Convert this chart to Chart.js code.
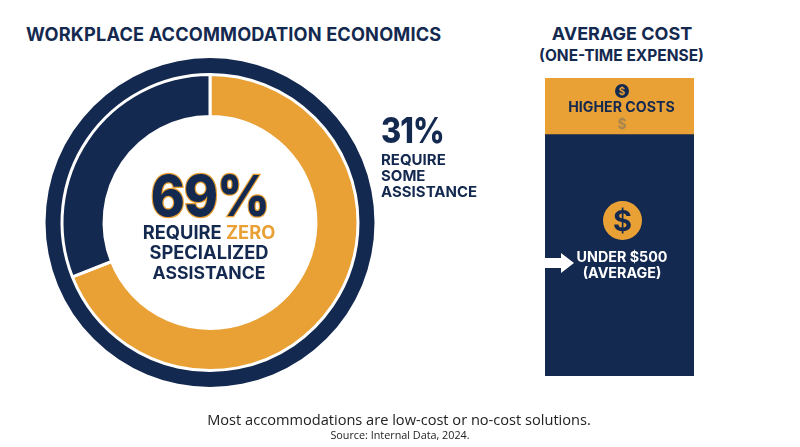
<!DOCTYPE html>
<html>
<head>
<meta charset="utf-8">
<script src="https://cdn.jsdelivr.net/npm/chart.js@4/dist/chart.umd.min.js"></script>
<style>
    html, body { margin: 0; padding: 0; background: #fff; }
    #page { position: relative; width: 800px; height: 447px; overflow: hidden; font-family: Inter, sans-serif; color: #14294f; }
    canvas { position: absolute; }
    .t { position: absolute; white-space: nowrap; font-weight: 700; line-height: 1; }
    .c { transform: translateX(-50%); text-align: center; }
    .coin { position: absolute; border-radius: 50%; text-align: center; font-weight: 700; }
    .foot { font-family: 'Open Sans', sans-serif; font-weight: 400; color: #222; }
</style>
</head>
<body>
<div id="page">
    <div class="t" style="left:26px;top:25px;font-size:18.2px;letter-spacing:.15px">WORKPLACE ACCOMMODATION ECONOMICS</div>

    <div style="position:absolute;left:0;top:0;width:420px;height:442px"><canvas id="donutChart"></canvas></div>

    <div class="t" style="left:210px;top:168px;font-size:56px;font-weight:800;letter-spacing:-1px;-webkit-text-stroke:2.5px #e9a136;paint-order:stroke fill;transform:translateX(-50%) scaleX(.92)">69%</div>
    <div class="t c" style="left:209px;top:222px;font-size:18.3px;line-height:20px">REQUIRE <span style="color:#e9a136">ZERO</span><br>SPECIALIZED<br><span style="font-size:17.6px">ASSISTANCE</span></div>

    <div class="t" style="left:381px;top:113px;font-size:35px;font-weight:800;letter-spacing:-1px;transform-origin:left;transform:scaleX(.88)">31%</div>
    <div class="t" style="left:381px;top:152px;font-size:15px;line-height:16px">REQUIRE<br>SOME<br>ASSISTANCE</div>

    <div class="t c" style="left:622px;top:25px;font-size:18px">AVERAGE COST</div>
    <div class="t c" style="left:621.5px;top:48px;font-size:15.5px">(ONE-TIME EXPENSE)</div>

    <div style="position:absolute;left:545px;top:78px;width:149px;height:298px"><canvas id="costChart"></canvas></div>

    <div class="coin" style="left:615px;top:84px;width:14px;height:14px;background:#14294f;color:#e9a136;font-size:10px;line-height:14px">$</div>
    <div class="t c" style="left:621.5px;top:100px;font-size:14.2px">HIGHER COSTS</div>
    <div class="t c" style="left:622px;top:117px;font-size:14px;color:#a8854f">$</div>

    <div class="coin" style="left:603px;top:201px;width:39px;height:39px;background:#e9a136;color:#14294f;font-size:29px;line-height:39px">$</div>
    <div class="t c" style="left:622px;top:249px;font-size:14.3px;line-height:16px;color:#fff">UNDER $500<br>(AVERAGE)</div>
    <svg style="position:absolute;left:545px;top:253px" width="30" height="20"><path d="M0 5H16V0L29 10L16 20V15H0Z" fill="#fff"/></svg>

    <div class="t c foot" style="left:399px;top:412px;font-size:14.6px">Most accommodations are low-cost or no-cost solutions.</div>
    <div class="t c foot" style="left:400px;top:430px;font-size:10.8px">Source: Internal Data, 2024.</div>
</div>

<script>
const NAVY = '#14294f';
const ORANGE = '#e9a136';

// Share of accommodations (percent)
const shareLabels = ['Require zero specialized assistance', 'Require some assistance'];
const shareValues = [69, 31];
const outerRing = [100];

// Cost bar (share of bar height)
const costCategories = ['Average cost'];
const underValues = [81];
const higherValues = [19];

new Chart(document.getElementById('donutChart'), {
    type: 'doughnut',
    data: {
        labels: shareLabels,
        datasets: [
            { data: outerRing, backgroundColor: [NAVY], borderWidth: 0, weight: 16.5 },
            // order -1 so the white border draws over the outer ring too
            { data: shareValues, backgroundColor: [ORANGE, NAVY], borderColor: '#fff', borderWidth: 3, weight: 42, order: -1 }
        ]
    },
    options: {
        responsive: true,
        maintainAspectRatio: false,
        animation: false,
        cutout: '64.4%',
        layout: { padding: { left: 45.5, right: 45.5, top: 58, bottom: 55 } },
        plugins: { legend: { display: false }, tooltip: { enabled: false } }
    }
});

new Chart(document.getElementById('costChart'), {
    type: 'bar',
    data: {
        labels: costCategories,
        datasets: [
            { label: 'Under $500', data: underValues, backgroundColor: NAVY, barPercentage: 1, categoryPercentage: 1 },
            { label: 'Higher costs', data: higherValues, backgroundColor: ORANGE, barPercentage: 1, categoryPercentage: 1 }
        ]
    },
    options: {
        responsive: true,
        maintainAspectRatio: false,
        animation: false,
        plugins: { legend: { display: false }, tooltip: { enabled: false } },
        scales: {
            x: { stacked: true, display: false },
            y: { stacked: true, display: false, min: 0, max: 100 }
        }
    }
});
</script>
</body>
</html>
